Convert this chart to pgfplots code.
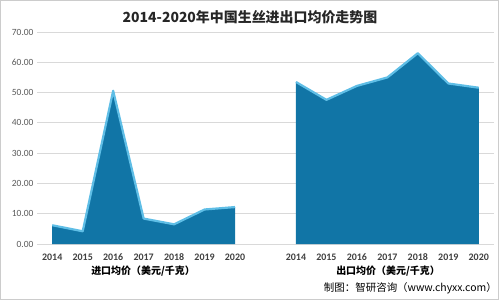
\documentclass[border=0pt]{standalone}
\usepackage{pgfplots}
\pgfplotsset{compat=1.18}
\usepackage{fontspec}
\setmainfont{Carlito}
\newfontfamily\cjk{Noto Sans CJK SC}
\definecolor{areablue}{RGB}{17,117,166}
\definecolor{edgeblue}{RGB}{95,190,230}
\definecolor{gridgray}{RGB}{217,217,217}
\definecolor{labgray}{RGB}{89,89,89}
\definecolor{xgray}{RGB}{64,64,64}
\begin{document}
\begin{tikzpicture}[x=1bp,y=1bp]
\path[use as bounding box] (0,0) rectangle (499,300);
\draw[gray!40] (0.5,0.5) rectangle (498.5,299.5);
\begin{axis}[at={(37bp,56bp)}, anchor=south west, scale only axis,
  width=457bp, height=212bp,
  xmin=-0.5, xmax=14.5, ymin=0, ymax=70,
  ytick={0,10,...,70},
  xtick={0,1,2,3,4,5,6,8,9,10,11,12,13,14},
  xticklabels={2014,2015,2016,2017,2018,2019,2020,2014,2015,2016,2017,2018,2019,2020},
  ymajorgrids, grid style={gridgray, line width=0.8pt},
  axis line style={draw=none}, major tick length=0pt,
  /pgf/number format/assume math mode=true,
  y tick label style={/pgf/number format/.cd, fixed, fixed zerofill, precision=2, /tikz/.cd, font=\fontsize{9.5}{11}\selectfont, text=labgray},
  x tick label style={font=\bfseries\fontsize{10}{12}\selectfont, text=xgray, yshift=-6bp},
  clip=false]
\addplot[fill=areablue, draw=none] coordinates {(0,6.2) (1,4.2) (2,50.6) (3,8.4) (4,6.5) (5,11.4) (6,12.2)} \closedcycle;
\addplot[edgeblue, line width=2.2pt, line join=round] coordinates {(0,6.2) (1,4.2) (2,50.6) (3,8.4) (4,6.5) (5,11.4) (6,12.2)};
\addplot[fill=areablue, draw=none] coordinates {(8,53.5) (9,47.6) (10,52.2) (11,55.0) (12,63.0) (13,53.0) (14,51.6)} \closedcycle;
\addplot[edgeblue, line width=2.2pt, line join=round] coordinates {(8,53.5) (9,47.6) (10,52.2) (11,55.0) (12,63.0) (13,53.0) (14,51.6)};
\end{axis}
\node[font=\cjk\bfseries\fontsize{14}{16}\selectfont, text=black!85] at (250,283) {2014-2020年中国生丝进出口均价走势图};
\node[font=\cjk\bfseries\fontsize{10}{12}\selectfont, text=black] at (143,29) {进口均价（美元/千克）};
\node[font=\cjk\bfseries\fontsize{10}{12}\selectfont, text=black] at (388,29) {出口均价（美元/千克）};
\node[font=\cjk\fontsize{10.5}{12}\selectfont, text=black, anchor=east, inner sep=0pt] at (497,12) {制图：智研咨询（www.chyxx.com）};
\end{tikzpicture}
\end{document}
